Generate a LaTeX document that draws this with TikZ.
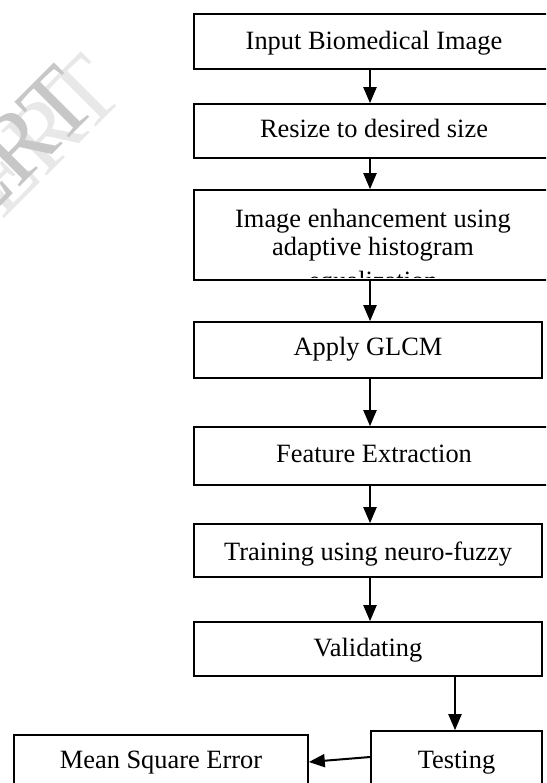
\documentclass[tikz,border=0pt]{standalone}
\usepackage{fontspec}
\setmainfont{Liberation Serif}
\usetikzlibrary{arrows.meta}

\begin{document}
\begin{tikzpicture}[x=1pt,y=-1pt,
  box/.style={draw, line width=1.6pt, inner sep=0pt, text height=20pt, text depth=6pt,
              font=\fontsize{26.4}{28.4}\selectfont},
  txt/.style={inner sep=0pt, font=\fontsize{26.4}{28.4}\selectfont},
  arr/.style={line width=2pt, -{Triangle[length=16pt,width=13pt]}},
  wmtext/.style={inner sep=0pt, rotate=45, anchor=base east,
               font=\fontsize{97}{97}\selectfont}]
  \useasboundingbox (0,0) rectangle (546,783);
  \clip (0,0) rectangle (546,783);

  % journal watermark in the corner
  \node[wmtext, text=black!9]  (wm2) at (128,95)  {IJERT};
  \node[wmtext, text=black!22] (wm1) at (101,106) {IJERT};

  % axis of the main column of arrows
  \coordinate (ax) at (370,0);

  % processing steps
  \node[box, minimum width=360pt, minimum height=55pt, text height=22pt] (b1) at (374,41.5) {Input Biomedical Image};
  \node[box, minimum width=360pt, minimum height=54pt] (b2) at (374,131) {Resize to desired size};
  \node[box, minimum width=360pt, minimum height=90pt] (b3) at (374,235) {};
  \begin{scope}
    % the text frame cuts off the last line just above the border
    \clip (196,192) rectangle (552,277);
    \node[txt, anchor=base] (b3a) at (373,227.7) {Image enhancement using};
    \node[txt, anchor=base] (b3b) at (373,256)   {adaptive histogram};
    \node[txt, anchor=base] (b3c) at (373,289.5) {equalization};
  \end{scope}
  \node[box, minimum width=348pt, minimum height=56pt, text height=16pt] (b4) at (368,350) {Apply GLCM};
  \node[box, minimum width=360pt, minimum height=58pt, text height=18.6pt] (b5) at (374,456) {Feature Extraction};
  \node[box, minimum width=348pt, minimum height=53pt, text height=25pt] (b6) at (368,550.5) {Training using neuro-fuzzy};
  \node[box, minimum width=348pt, minimum height=54pt, text height=21.4pt] (b7) at (368,649) {Validating};
  \node[box, minimum width=171pt, minimum height=69pt, text height=11pt] (b8) at (456.5,765.5) {Testing};
  \node[box, minimum width=294pt, minimum height=65pt, text height=7pt] (b9) at (161,767.5) {Mean Square Error};

  % connectors
  \draw[arr] (b1.south -| ax) -- (b2.north -| ax);
  \draw[arr] (b2.south -| ax) -- (b3.north -| ax);
  \draw[arr] (b3.south -| ax) -- (b4.north -| ax);
  \draw[arr] (b4.south -| ax) -- (b5.north -| ax);
  \draw[arr] (b5.south -| ax) -- (b6.north -| ax);
  \draw[arr] (b6.south -| ax) -- (b7.north -| ax);
  \coordinate (vx) at (455,0);
  \draw[arr] (b7.south -| vx) -- (b8.north -| vx);
  \coordinate (ta) at (0,757);
  \coordinate (ma) at (0,762);
  \draw[arr] (b8.west |- ta) -- (b9.east |- ma);
\end{tikzpicture}
\end{document}
